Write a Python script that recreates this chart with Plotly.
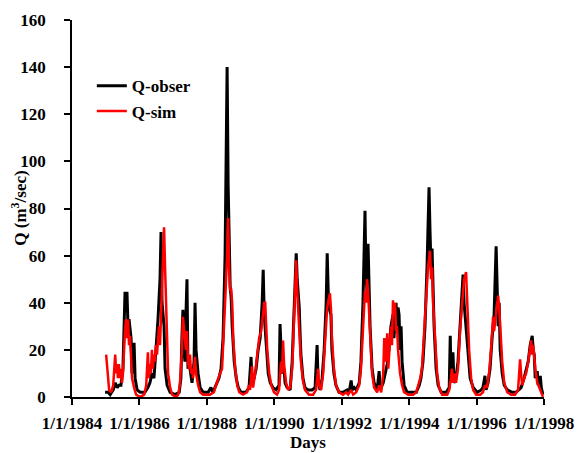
import pandas as pd
import plotly.graph_objects as go

# Observed discharge (decimal year, m3/sec)
obs_year = [1984.98,1985.07,1985.13,1985.22,1985.28,1985.34,1985.39,1985.45,1985.51,1985.57,1985.63,1985.66,1985.69,1985.75,1985.78,1985.84,1985.87,1985.93,1986.02,1986.16,
            1986.25,1986.31,1986.37,1986.43,1986.46,1986.52,1986.55,1986.61,1986.64,1986.67,1986.73,1986.76,1986.82,1986.91,1987.06,1987.18,1987.23,1987.26,1987.29,1987.32,
            1987.35,1987.38,1987.41,1987.44,1987.47,1987.50,1987.56,1987.62,1987.65,1987.68,1987.74,1987.80,1987.89,1988.04,1988.12,1988.18,1988.27,1988.36,1988.42,1988.48,
            1988.54,1988.60,1988.63,1988.66,1988.69,1988.72,1988.75,1988.81,1988.87,1988.93,1989.01,1989.16,1989.25,1989.31,1989.34,1989.40,1989.46,1989.52,1989.58,1989.64,
            1989.67,1989.70,1989.73,1989.76,1989.82,1989.88,1989.96,1990.05,1990.14,1990.17,1990.20,1990.23,1990.29,1990.32,1990.38,1990.47,1990.53,1990.59,1990.65,1990.68,
            1990.74,1990.77,1990.79,1990.85,1990.91,1991.00,1991.12,1991.21,1991.27,1991.30,1991.36,1991.42,1991.48,1991.54,1991.57,1991.60,1991.62,1991.68,1991.71,1991.77,
            1991.83,1991.92,1992.04,1992.16,1992.22,1992.28,1992.31,1992.37,1992.43,1992.52,1992.57,1992.63,1992.69,1992.72,1992.75,1992.78,1992.81,1992.84,1992.90,1992.96,
            1993.05,1993.11,1993.14,1993.23,1993.29,1993.35,1993.41,1993.46,1993.52,1993.55,1993.61,1993.64,1993.67,1993.70,1993.73,1993.76,1993.79,1993.85,1993.94,1994.09,
            1994.21,1994.30,1994.35,1994.41,1994.47,1994.53,1994.59,1994.62,1994.65,1994.68,1994.71,1994.74,1994.80,1994.86,1994.95,1995.10,1995.19,1995.22,1995.24,1995.30,
            1995.33,1995.39,1995.45,1995.51,1995.57,1995.60,1995.63,1995.69,1995.75,1995.81,1995.90,1996.02,1996.14,1996.19,1996.25,1996.28,1996.34,1996.40,1996.46,1996.52,
            1996.58,1996.61,1996.64,1996.67,1996.70,1996.76,1996.82,1996.91,1997.05,1997.17,1997.26,1997.32,1997.41,1997.47,1997.53,1997.59,1997.65,1997.68,1997.71,1997.74,
            1997.80,1997.83,1997.89,1997.92,1997.97]
obs_q = [2,2,1,3,6,4,5,5,12,44,44,30,33,25,10,23,8,3,2,2,
         4,6,10,8,14,25,33,50,70,40,30,12,5,2,1,2,8,25,37,20,
         15,35,50,12,16,12,6,15,40,20,10,4,2,2,4,2,5,8,12,25,
         60,140,90,60,47,42,30,15,8,4,2,2,4,17,5,8,12,20,25,40,
         54,35,28,20,10,6,4,3,5,31,15,10,12,6,4,3,15,40,61,50,
         38,25,18,8,4,3,3,4,22,6,3,8,20,40,61,45,38,35,20,10,
         5,2,2,3,2,7,3,4,3,6,15,40,79,50,45,65,40,30,12,6,
         3,11,3,6,10,14,22,30,35,25,40,30,38,35,20,30,15,5,2,2,
         2,5,8,15,30,55,89,70,55,63,40,30,12,5,2,2,4,26,8,19,
         6,8,15,30,45,52,40,30,20,8,4,2,3,4,9,3,6,12,25,35,
         64,45,30,40,20,10,5,3,2,2,3,4,8,12,15,22,26,20,18,8,
         11,5,9,4,1]

# Simulated discharge (decimal year, m3/sec)
sim_year = [1985.01,1985.04,1985.07,1985.10,1985.16,1985.22,1985.28,1985.31,1985.34,1985.36,1985.39,1985.42,1985.45,1985.48,1985.51,1985.54,1985.57,1985.60,1985.63,1985.66,
            1985.69,1985.72,1985.75,1985.78,1985.84,1985.90,1986.02,1986.14,1986.20,1986.23,1986.25,1986.28,1986.31,1986.34,1986.37,1986.40,1986.43,1986.46,1986.49,1986.52,
            1986.55,1986.58,1986.61,1986.64,1986.67,1986.70,1986.73,1986.76,1986.79,1986.82,1986.85,1986.91,1986.97,1987.09,1987.15,1987.20,1987.23,1987.26,1987.29,1987.32,
            1987.35,1987.38,1987.41,1987.44,1987.47,1987.50,1987.53,1987.56,1987.59,1987.62,1987.65,1987.68,1987.74,1987.80,1987.89,1988.09,1988.21,1988.27,1988.33,1988.39,
            1988.45,1988.48,1988.54,1988.60,1988.63,1988.66,1988.69,1988.72,1988.75,1988.78,1988.84,1988.90,1988.96,1989.07,1989.19,1989.25,1989.28,1989.34,1989.37,1989.43,
            1989.49,1989.55,1989.61,1989.67,1989.70,1989.73,1989.76,1989.79,1989.85,1989.91,1989.99,1990.08,1990.14,1990.20,1990.23,1990.26,1990.29,1990.35,1990.41,1990.47,
            1990.53,1990.59,1990.62,1990.65,1990.68,1990.71,1990.74,1990.79,1990.85,1990.91,1991.03,1991.15,1991.24,1991.30,1991.33,1991.39,1991.45,1991.51,1991.57,1991.62,
            1991.65,1991.68,1991.71,1991.77,1991.83,1991.92,1992.04,1992.13,1992.19,1992.28,1992.34,1992.43,1992.52,1992.57,1992.63,1992.69,1992.72,1992.75,1992.78,1992.81,
            1992.84,1992.90,1992.96,1993.05,1993.11,1993.17,1993.23,1993.26,1993.29,1993.32,1993.35,1993.38,1993.41,1993.46,1993.49,1993.52,1993.55,1993.58,1993.61,1993.64,
            1993.67,1993.73,1993.79,1993.85,1993.97,1994.12,1994.21,1994.27,1994.33,1994.38,1994.44,1994.50,1994.56,1994.62,1994.65,1994.68,1994.71,1994.77,1994.83,1994.89,
            1994.98,1995.13,1995.19,1995.24,1995.27,1995.30,1995.36,1995.39,1995.45,1995.51,1995.57,1995.63,1995.69,1995.72,1995.78,1995.84,1995.90,1995.99,1996.11,1996.19,
            1996.25,1996.31,1996.37,1996.43,1996.49,1996.52,1996.58,1996.64,1996.67,1996.70,1996.76,1996.82,1996.91,1997.02,1997.14,1997.23,1997.29,1997.32,1997.35,1997.41,
            1997.47,1997.53,1997.59,1997.62,1997.65,1997.68,1997.74,1997.80,1997.86,1997.92,1997.97]
sim_q = [18,12,6,3,2,5,18,10,14,8,14,8,12,6,10,22,28,33,25,33,
         22,26,18,8,4,1,0,1,5,12,19,8,14,10,20,12,18,15,22,18,
         25,30,22,35,55,68,72,55,40,20,10,4,1,0,1,5,12,20,34,28,
         25,20,28,15,12,18,10,12,8,13,17,10,5,2,1,1,2,5,8,10,
         12,20,40,60,76,55,45,46,40,25,12,5,2,1,2,5,3,13,4,10,
         18,25,28,35,40,40,30,20,10,5,2,1,3,15,10,24,14,6,3,4,
         12,35,55,58,45,35,25,15,7,3,1,1,3,12,5,3,10,25,38,42,
         44,38,25,12,5,2,1,2,1,3,1,2,5,12,30,45,40,50,45,35,
         25,10,4,2,5,2,10,25,15,20,27,12,18,30,22,41,35,40,28,30,
         20,10,5,2,1,1,2,5,8,12,25,40,55,62,50,55,40,25,10,4,
         1,1,3,8,12,6,10,6,12,28,40,50,53,40,20,8,3,1,1,2,
         5,4,10,20,34,28,35,43,38,30,15,6,2,1,1,3,16,10,5,8,
         10,15,20,24,18,22,12,6,4,2,0]

y_ticks = [0, 20, 40, 60, 80, 100, 120, 140, 160]
x_tick_dates = ["1984-01-01", "1986-01-01", "1988-01-01", "1990-01-01",
                "1992-01-01", "1994-01-01", "1996-01-01", "1998-01-01"]
x_tick_text = ["1/1/1984", "1/1/1986", "1/1/1988", "1/1/1990",
               "1/1/1992", "1/1/1994", "1/1/1996", "1/1/1998"]


def to_dates(years):
    out = []
    for y in years:
        yr = int(y)
        start = pd.Timestamp(year=yr, month=1, day=1)
        end = pd.Timestamp(year=yr + 1, month=1, day=1)
        out.append(start + (end - start) * (y - yr))
    return out


font_family = "Liberation Serif, Times New Roman, serif"

fig = go.Figure()
fig.add_trace(go.Scatter(x=to_dates(obs_year), y=obs_q, mode="lines", name="Q-obser",
                         line=dict(color="black", width=3)))
fig.add_trace(go.Scatter(x=to_dates(sim_year), y=sim_q, mode="lines", name="Q-sim",
                         line=dict(color="#ff0000", width=2.5)))

fig.update_layout(
    width=583, height=453,
    margin=dict(l=72, r=39, t=20, b=56),
    paper_bgcolor="white", plot_bgcolor="white",
    font=dict(family=font_family, size=17, color="black", weight="bold"),
    showlegend=True,
    legend=dict(x=0.042, y=0.872, xanchor="left", yanchor="top",
                bgcolor="rgba(0,0,0,0)", font=dict(size=17, weight="bold"),
                tracegroupgap=0),
    xaxis=dict(
        type="date", range=["1984-01-01", "1998-01-01"],
        tickvals=x_tick_dates, ticktext=x_tick_text,
        showline=True, linecolor="black", linewidth=1.5,
        ticks="outside", ticklen=6, tickwidth=1.5, tickcolor="black",
        showgrid=False, zeroline=False, ticklabelstandoff=4,
        automargin=False,
        title=dict(text="Days", standoff=2, font=dict(size=17, weight="bold")),
    ),
    yaxis=dict(
        range=[0, 160], tickvals=y_ticks,
        showline=True, linecolor="black", linewidth=1.5,
        ticks="outside", ticklen=6, tickwidth=1.5, tickcolor="black",
        showgrid=False, zeroline=False, ticklabelstandoff=15,
        automargin=False,
    ),
    annotations=[dict(
        text="Q (m<sup>3</sup>/sec)", textangle=-90,
        xref="paper", yref="paper", x=-0.114, y=0.5,
        xanchor="center", yanchor="middle", showarrow=False,
        font=dict(family=font_family, size=17, color="black", weight="bold"),
    )],
)

fig.write_html("out.html")
